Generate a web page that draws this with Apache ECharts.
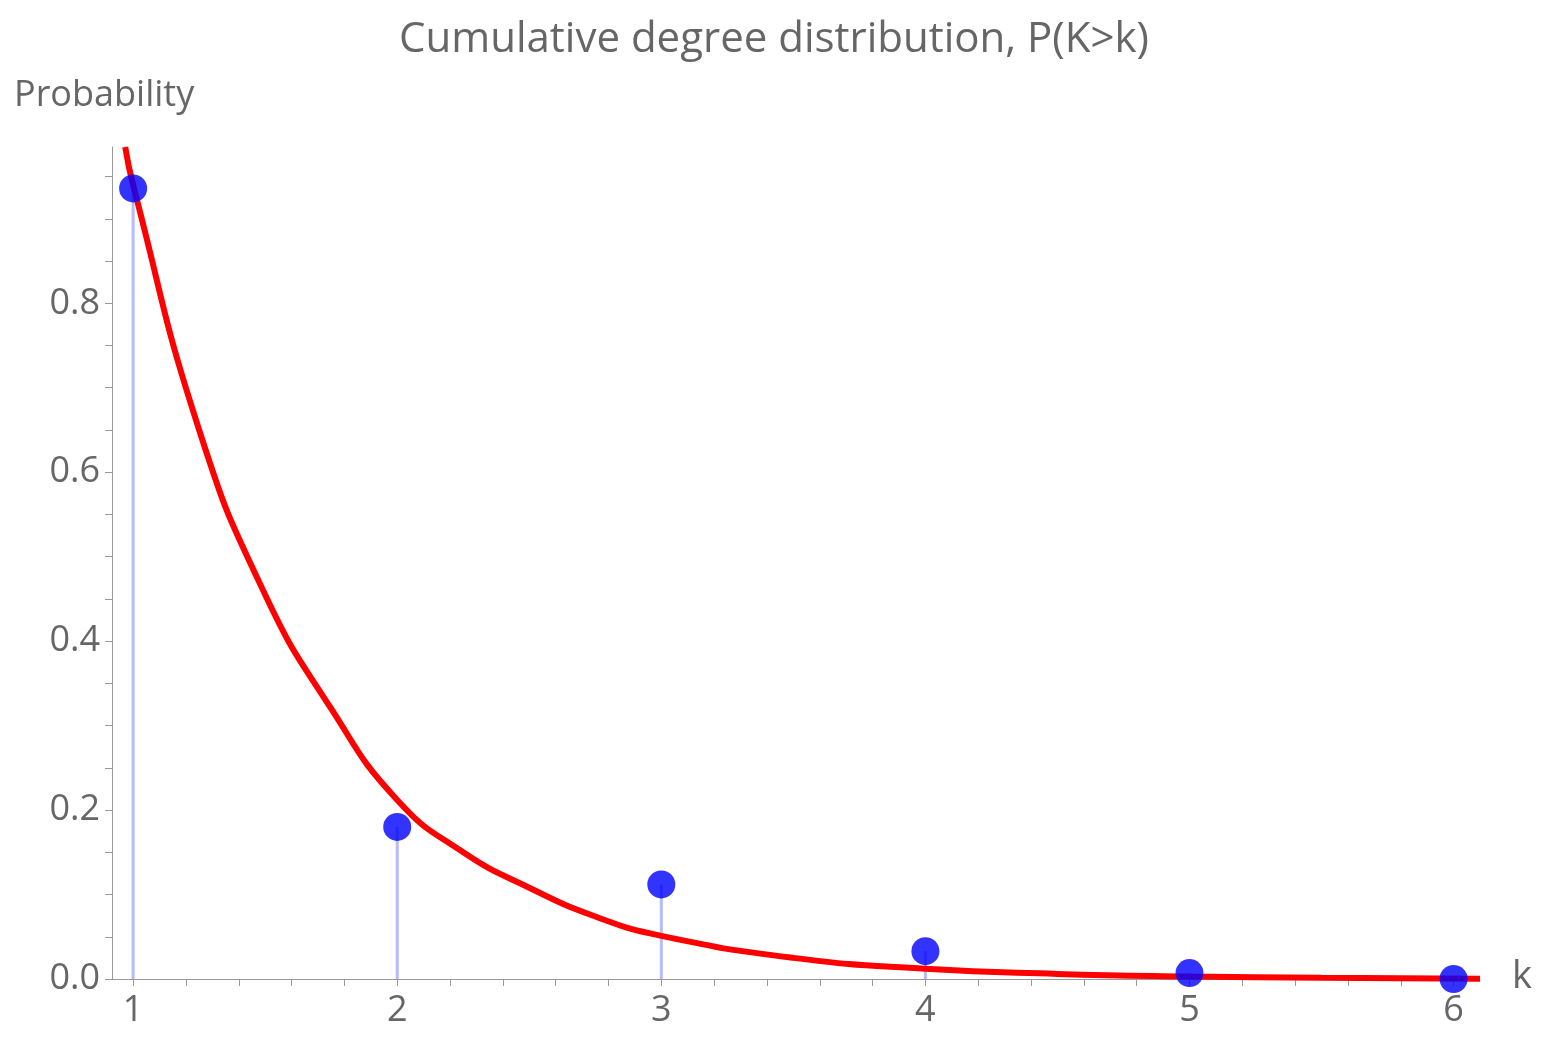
<!DOCTYPE html>
<html>
<head>
<meta charset="utf-8">
<script src="https://cdn.jsdelivr.net/npm/echarts@6/dist/echarts.min.js"></script>
<style>html,body{margin:0;padding:0;background:#fff}#c{width:1548px;height:1049px}</style>
</head>
<body>
<div id="c"></div>
<script>
// observed points P(K>k)
const degrees = [1, 2, 3, 4, 5, 6]
const probs = [0.936, 0.18, 0.112, 0.033, 0.007, 0.0]
// fitted curve
const fitX = [0.97, 1, 1.25, 1.5, 1.75, 2, 2.25, 2.5, 2.75, 3, 3.5, 4, 4.5, 5, 5.5, 6.1]
const fitY = [0.985, 0.94, 0.65, 0.455, 0.32, 0.212, 0.15, 0.108, 0.074, 0.051, 0.025, 0.012, 0.006, 0.003, 0.0015, 0.0004]
const xLabels = [1, 2, 3, 4, 5, 6]
const yLabels = [0, 0.2, 0.4, 0.6, 0.8]

const gray = '#666'
const xTicks = []
for (let v = 1; v <= 6.01; v += 0.2) xTicks.push(+v.toFixed(1))
const yTicks = []
for (let v = 0; v <= 0.97; v += 0.05) yTicks.push(+v.toFixed(2))

const chart = echarts.init(document.getElementById('c'))
chart.setOption({
  animation: false,
  title: {
    text: 'Cumulative degree distribution, P(K>k)',
    left: 'center', top: 14,
    textStyle: { color: gray, fontSize: 42, fontWeight: 'normal', fontFamily: 'Open Sans' }
  },
  graphic: [
    { type: 'text', left: 14, top: 78, style: { text: 'Probability', fill: gray, font: '36px "Open Sans"' } },
    { type: 'text', left: 1512, top: 958, style: { text: 'k', fill: gray, font: '38px "Open Sans"' } }
  ],
  grid: { left: 112, right: 68, top: 147, bottom: 70 },
  xAxis: {
    type: 'value', min: 0.92, max: 6.1,
    axisLine: { onZero: false, lineStyle: { color: '#999', width: 1 } },
    axisTick: { customValues: xTicks, length: 7, lineStyle: { color: '#999' } },
    axisLabel: { customValues: xLabels, color: gray, fontSize: 36, fontFamily: 'Open Sans', margin: 14 },
    splitLine: { show: false }
  },
  yAxis: {
    type: 'value', min: 0, max: 0.985,
    axisLine: { show: true, lineStyle: { color: '#999', width: 1 } },
    axisTick: { customValues: yTicks, length: 7, lineStyle: { color: '#999' } },
    axisLabel: { customValues: yLabels, color: gray, fontSize: 36, fontFamily: 'Open Sans', margin: 12,
      formatter: v => v.toFixed(1) },
    splitLine: { show: false }
  },
  series: [
    {
      type: 'bar', barWidth: 3, silent: true,
      data: degrees.map((d, i) => [d, probs[i]]),
      itemStyle: { color: 'rgba(110,120,245,0.5)' }
    },
    {
      type: 'line', smooth: true, showSymbol: false, clip: true,
      data: fitX.map((x, i) => [x, fitY[i]]),
      lineStyle: { color: '#ff0000', width: 6 }, z: 3
    },
    {
      type: 'scatter', symbolSize: 28,
      data: degrees.map((d, i) => [d, probs[i]]),
      itemStyle: { color: '#0000ff' }, z: 4
    }
  ]
})
</script>
</body>
</html>
